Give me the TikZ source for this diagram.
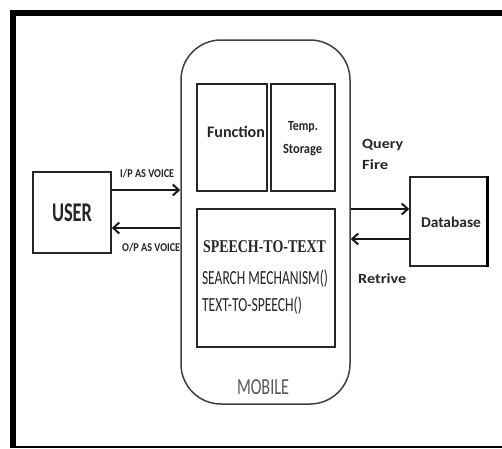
\documentclass[tikz,border=0pt]{standalone}
\usepackage{fontspec}
\setmainfont{Carlito}
\newfontfamily\serifx{Liberation Serif}
\usetikzlibrary{arrows.meta}
\newcommand\fw[3]{\resizebox{#1pt}{\height}{\fontsize{#2}{#2}\selectfont #3}}
\tikzset{
  box/.style={draw=black!85, line width=1.6pt, inner sep=0pt},
  arr/.style={line width=2.6pt, black!90, -{Straight Barb[length=6pt,width=11pt,line width=2pt]}},
  lbl/.style={inner sep=0pt, text=black!85, font=\bfseries},
}
\begin{document}
\begin{tikzpicture}[x=1pt,y=-1pt]
\useasboundingbox (0,0) rectangle (502,448);
\fill[white] (0,0) rectangle (502,448);
% outer frame
\draw[line width=6pt, black] (13,448) -- (13,13) -- (502,13);
\draw[line width=1.5pt, black] (10,447) -- (502,447);
% mobile
\node[box, draw=black!75, line width=1.5pt, rounded corners=40pt, minimum width=169pt, minimum height=364pt] (mobile) at (265.5,222) {};
\node[box, minimum width=70pt, minimum height=107pt] (func) at (232,137.5) {};
\node[box, minimum width=64pt, minimum height=107pt] (temp) at (303,137.5) {};
\node[box, minimum width=138pt, minimum height=138pt] (proc) at (266,278) {};
% user and database
\node[box, minimum width=78pt, minimum height=81pt] (user) at (72,212.5) {};
\node[box, minimum width=77pt, minimum height=89pt] (db) at (448.5,221.5) {};
\draw[line width=3.2pt, black] (db.north east) -- (db.south east);
% texts
\node[lbl] (tuser) at (72,213) {\fw{40}{27}{USER}};
\node[lbl] (tfunc) at (236,132) {\fw{58}{16}{Function}};
\node[lbl, align=center] (ttemp) at (303,127) {\fw{30}{14}{Temp.}};
\node[lbl] (tstor) at (302.5,150) {\fw{39}{14}{Storage}};
\node[lbl] (tspeech) at (264.5,247) {\fw{123}{18}{\serifx\bfseries SPEECH-TO-TEXT}};
\node[lbl, font=\mdseries] (tsearch) at (265,279) {\fw{126}{20}{SEARCH MECHANISM()}};
\node[lbl, font=\mdseries] (ttts) at (252,306) {\fw{100}{20}{TEXT-TO-SPEECH()}};
\node[lbl, font=\mdseries, text=black!65] (tmob) at (263,387.5) {\fw{52}{23}{MOBILE}};
\node[lbl] (tdb) at (451,222) {\fw{60}{15}{Database}};
\node[lbl, anchor=west] (tquery) at (362,145) {\fw{41}{14}{Query}};
\node[lbl, anchor=west] (tfire) at (362,165) {\fw{26}{14}{Fire}};
\node[lbl, anchor=west] (tret) at (358,279) {\fw{48}{14}{Retrive}};
\node[lbl, anchor=west] (tip) at (120,174) {\fw{54}{12}{I/P AS VOICE}};
\node[lbl, anchor=west] (top) at (122,248) {\fw{58}{12}{O/P AS VOICE}};
% connectors
\draw[arr] (user.east |- 0,190) -- (mobile.west |- 0,190);
\draw[arr] (mobile.west |- 0,228) -- (user.east |- 0,228);
\draw[arr] (mobile.east |- 0,209) -- (db.west |- 0,209);
\draw[arr] (db.west |- 0,239) -- (mobile.east |- 0,239);
\end{tikzpicture}
\end{document}
